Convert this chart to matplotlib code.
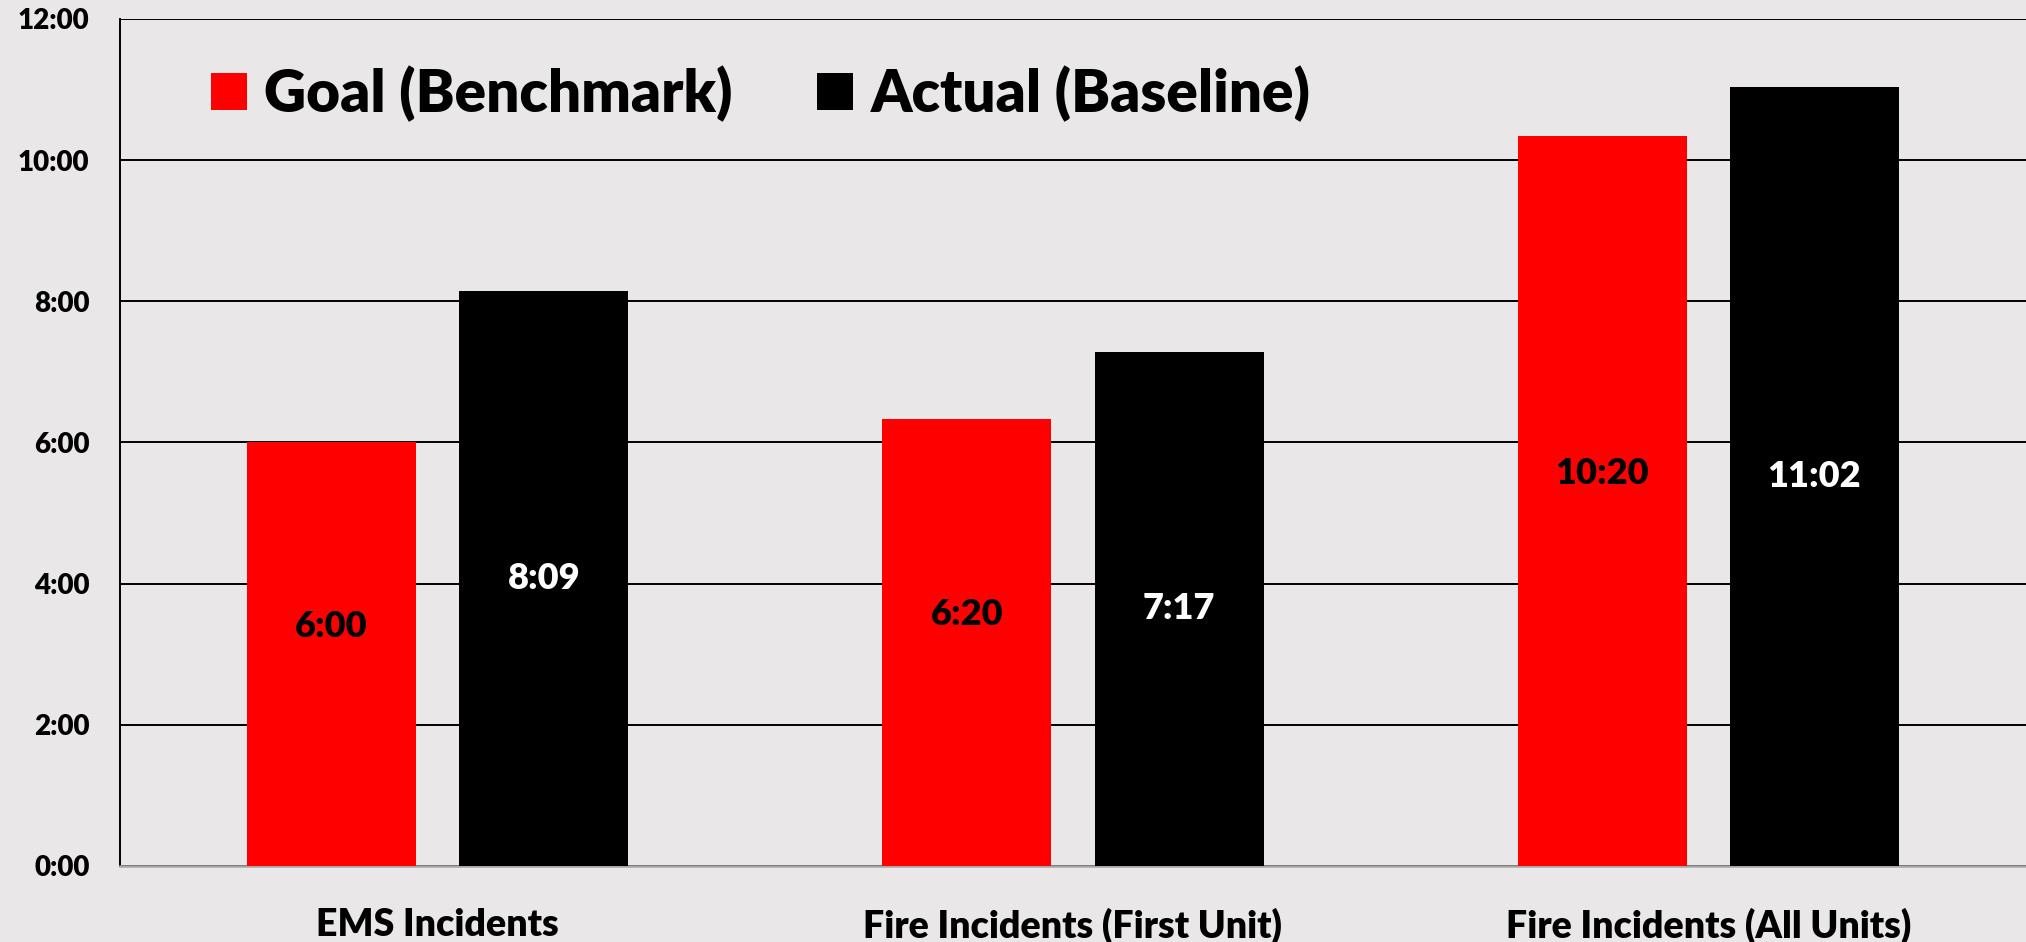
import matplotlib
matplotlib.use('Agg')
import numpy as np
import matplotlib.pyplot as plt
from matplotlib.patches import Patch
from matplotlib.ticker import FuncFormatter, MultipleLocator

plt.rcParams['font.family'] = ['Lato', 'DejaVu Sans']
plt.rcParams['font.weight'] = 'bold'

categories = ['EMS Incidents', 'Fire Incidents (First Unit)', 'Fire Incidents (All Units)']
goal_times = ['6:00', '6:20', '10:20']      # Goal (Benchmark)
actual_times = ['8:09', '7:17', '11:02']    # Actual (Baseline)
series_names = ['Goal (Benchmark)', 'Actual (Baseline)']


def to_minutes(s):
    m, sec = s.split(':')
    return int(m) + int(sec) / 60.


def fmt_mmss(v, pos=None):
    total = int(round(v * 60))
    return '%d:%02d' % (total // 60, total % 60)


goal = np.array([to_minutes(t) for t in goal_times])
actual = np.array([to_minutes(t) for t in actual_times])

bg = '#e9e7e8'
red = '#ff0000'
wt = 'heavy'

fig = plt.figure(figsize=(20.26, 9.42), dpi=100, facecolor=bg)
ax = fig.add_axes([0.0592, 0.0807, 0.9408, 0.8993])
ax.set_facecolor(bg)

x = np.arange(len(categories))
width = 0.266
off = 0.167

ax.bar(x - off, goal, width, color=red, zorder=3)
ax.bar(x + off, actual, width, color='black', zorder=3)

# value labels in the middle of each bar (red ones sit a bit higher)
for xi, v, lab in zip(x, goal, goal_times):
    ax.annotate(lab, xy=(xi - off, v / 2), xytext=(0, 20), textcoords='offset points',
                ha='center', va='center', fontsize=26, fontweight=wt, color='black', zorder=5)
for xi, v, lab in zip(x, actual, actual_times):
    ax.text(xi + off, v / 2, lab, ha='center', va='center', fontsize=26,
            fontweight=wt, color='white', zorder=5)

ax.set_xlim(-0.5, 2.5)
ax.set_ylim(0, 12)
ax.yaxis.set_major_locator(MultipleLocator(2))
ax.yaxis.set_major_formatter(FuncFormatter(fmt_mmss))
ax.grid(axis='y', color='black', linewidth=1.4, zorder=0)
ax.set_axisbelow(True)

ax.set_xticks(x)
ax.set_xticklabels(categories, fontsize=27, fontweight=wt)
ax.tick_params(axis='x', length=0, pad=30)
ax.tick_params(axis='y', length=0, pad=22, labelsize=20)
for t in ax.get_yticklabels():
    t.set_fontweight(wt)

for s in ['top', 'right']:
    ax.spines[s].set_visible(False)
ax.spines['left'].set_color('black')
ax.spines['left'].set_linewidth(1.4)
ax.spines['bottom'].set_color('#a6a6a6')
ax.spines['bottom'].set_linewidth(1.8)

handles = [Patch(facecolor=red), Patch(facecolor='black')]
ax.legend(handles, series_names, loc='upper left', bbox_to_anchor=(0.02, 1.007), ncol=2,
          frameon=False, handlelength=0.62, handleheight=0.62,
          handletextpad=0.3, columnspacing=1.45, prop={'weight': wt, 'size': 42})

fig.savefig('out.png', dpi=100, facecolor=bg)
